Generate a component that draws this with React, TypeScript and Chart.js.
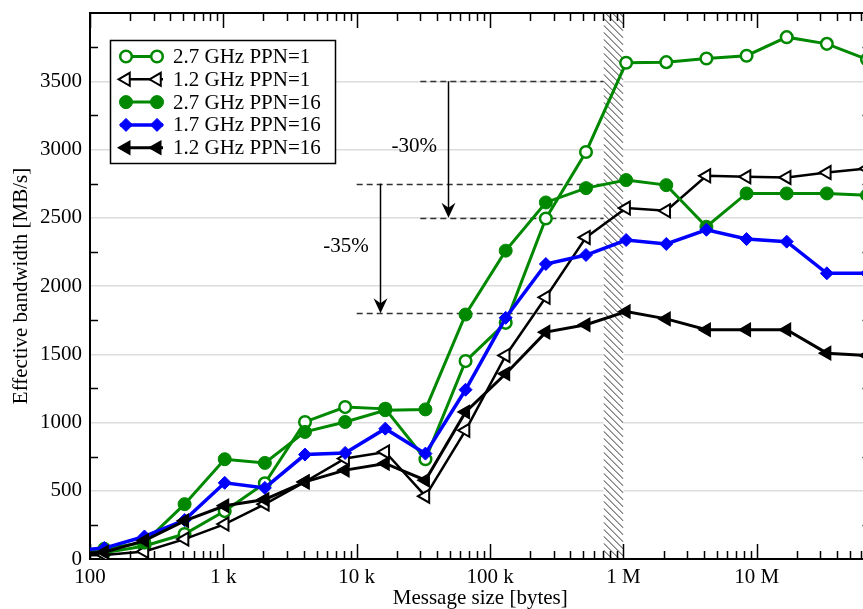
import React, { useEffect, useRef } from 'react';
import { Chart, registerables } from 'chart.js';
import { drawPoint } from 'chart.js/helpers';

Chart.register(...registerables);

// ---------- data ----------
const messageSizes = [64, 128, 256, 512, 1024, 2048, 4096, 8192, 16384, 32768, 65536, 131072, 262144, 524288, 1048576, 2097152, 4194304, 8388608, 16777216, 33554432, 67108864];

const seriesLabels = ['2.7 GHz PPN=1', '1.2 GHz PPN=1', '2.7 GHz PPN=16', '1.7 GHz PPN=16', '1.2 GHz PPN=16'];

const ghz27ppn1 = [35, 45, 95, 183, 351, 555, 1004, 1113, 1100, 731, 1450, 1730, 2495, 2982, 3635, 3640, 3667, 3687, 3823, 3774, 3660];
const ghz12ppn1 = [25, 30, 55, 146, 256, 402, 565, 736, 784, 460, 943, 1491, 1917, 2356, 2571, 2551, 2807, 2800, 2795, 2831, 2860];
const ghz27ppn16 = [45, 75, 120, 402, 731, 704, 931, 1004, 1090, 1096, 1791, 2259, 2612, 2717, 2776, 2739, 2434, 2678, 2678, 2678, 2665];
const ghz17ppn16 = [55, 80, 165, 285, 558, 521, 765, 777, 955, 772, 1240, 1767, 2161, 2227, 2337, 2308, 2412, 2344, 2325, 2093, 2093];
const ghz12ppn16 = [40, 50, 135, 280, 390, 436, 565, 651, 700, 577, 1077, 1357, 1662, 1716, 1813, 1759, 1679, 1679, 1679, 1508, 1491];

const xTickDecades = [100, 1000, 10000, 100000, 1000000, 10000000];
const xTickLabels = ['100', '1 k', '10 k', '100 k', '1 M', '10 M'];
const yMajorStep = 500;
const yMinorValues = [250, 750, 1250, 1750, 2250, 2750, 3250, 3750];

const xMin = 100;
const xMax = 7.13e7;
const yMin = 0;
const yMax = 4000;

// annotations (data space)
const hatchRange = [710000, 1000000];
const refLines = [
  { value: 3500, from: 30000 },
  { value: 2500, from: 30000 },
  { value: 2750, from: 10000 },
  { value: 1800, from: 10000 },
];
const arrows = [
  { x: 48000, from: 3500, to: 2500, label: '-30%', labelX: 27000, labelY: 3025 },
  { x: 15000, from: 2750, to: 1800, label: '-35%', labelX: 8300, labelY: 2290 },
];

// ---------- styles ----------
const FONT_FAMILY = "'Liberation Serif', 'DejaVu Serif', serif";
const FONT_SIZE = 21;
const GREEN = 'rgb(0,136,0)';
const BLUE = 'rgb(0,0,255)';
const BLACK = '#000';

const seriesValues = [ghz27ppn1, ghz12ppn1, ghz27ppn16, ghz17ppn16, ghz12ppn16];
const seriesStyles = [
  { color: GREEN, width: 3, pointStyle: 'circle', rotation: 0, radius: 5.8, pbw: 2.5, fill: '#fff' },
  { color: BLACK, width: 2.5, pointStyle: 'triangle', rotation: -90, radius: 7.5, pbw: 2, fill: '#fff' },
  { color: GREEN, width: 3, pointStyle: 'circle', rotation: 0, radius: 6.5, pbw: 1, fill: GREEN },
  { color: BLUE, width: 3.5, pointStyle: 'rectRot', rotation: 0, radius: 6.5, pbw: 1, fill: BLUE },
  { color: BLACK, width: 3, pointStyle: 'triangle', rotation: -90, radius: 7.5, pbw: 1.5, fill: BLACK },
];

function xTickList(): number[] {
  const out: number[] = [];
  for (const d of xTickDecades) {
    for (let m = 1; m <= 9; m++) {
      const v = m * d;
      if (v >= xMin && v <= xMax) out.push(v);
    }
  }
  return out;
}

const decorPlugin = {
  id: 'decor',
  beforeDatasetsDraw(chart: any) {
    const { ctx, chartArea: a, scales } = chart;
    const x = scales.x;
    const y = scales.y;
    // hatched region
    const hx0 = x.getPixelForValue(hatchRange[0]);
    const hx1 = x.getPixelForValue(hatchRange[1]);
    ctx.save();
    ctx.beginPath();
    ctx.rect(hx0, a.top + 1, hx1 - hx0, a.bottom - a.top - 2);
    ctx.fillStyle = '#fff';
    ctx.fill();
    ctx.clip();
    ctx.beginPath();
    ctx.strokeStyle = '#333';
    ctx.lineWidth = 1;
    const w = hx1 - hx0;
    for (let c = a.top - w - 10; c < a.bottom + 10; c += 7) {
      ctx.moveTo(hx0, c);
      ctx.lineTo(hx1, c + w);
    }
    ctx.stroke();
    ctx.restore();

    // dashed reference lines
    ctx.save();
    ctx.strokeStyle = '#333';
    ctx.lineWidth = 1.3;
    ctx.setLineDash([6, 4]);
    for (const r of refLines) {
      const py = Math.round(y.getPixelForValue(r.value)) + 0.5;
      ctx.beginPath();
      ctx.moveTo(x.getPixelForValue(r.from), py);
      ctx.lineTo(hx0, py);
      ctx.stroke();
    }
    ctx.restore();

    // arrows and labels
    ctx.save();
    for (const ar of arrows) {
      const px = Math.round(x.getPixelForValue(ar.x)) + 0.5;
      const y0 = y.getPixelForValue(ar.from);
      const y1 = y.getPixelForValue(ar.to);
      ctx.strokeStyle = '#000';
      ctx.fillStyle = '#000';
      ctx.lineWidth = 1.5;
      ctx.beginPath();
      ctx.moveTo(px, y0);
      ctx.lineTo(px, y1 - 8);
      ctx.stroke();
      ctx.beginPath();
      ctx.moveTo(px, y1);
      ctx.lineTo(px - 7, y1 - 15);
      ctx.lineTo(px, y1 - 10);
      ctx.lineTo(px + 7, y1 - 15);
      ctx.closePath();
      ctx.fill();
      ctx.font = `${FONT_SIZE}px ${FONT_FAMILY}`;
      ctx.textAlign = 'center';
      ctx.textBaseline = 'middle';
      ctx.fillText(ar.label, x.getPixelForValue(ar.labelX), y.getPixelForValue(ar.labelY));
    }
    ctx.restore();

    // ticks and top frame
    ctx.save();
    ctx.strokeStyle = '#000';
    ctx.lineWidth = 1.5;
    ctx.beginPath();
    for (const v of xTickList()) {
      const px = Math.round(x.getPixelForValue(v)) + 0.5;
      const major = xTickDecades.includes(v);
      const len = major ? 15 : 8;
      ctx.moveTo(px, a.bottom);
      ctx.lineTo(px, a.bottom - len);
      ctx.moveTo(px, a.top);
      ctx.lineTo(px, a.top + len);
    }
    for (const v of yMinorValues) {
      const py = Math.round(y.getPixelForValue(v)) + 0.5;
      ctx.moveTo(a.left, py);
      ctx.lineTo(a.left + 8, py);
      ctx.moveTo(a.right, py);
      ctx.lineTo(a.right - 8, py);
    }
    ctx.stroke();
    ctx.lineWidth = 2;
    ctx.beginPath();
    ctx.moveTo(a.left - 1, a.top);
    ctx.lineTo(a.right + 1, a.top);
    ctx.moveTo(a.right, a.top);
    ctx.lineTo(a.right, a.bottom);
    ctx.stroke();
    ctx.restore();
  },
  afterDraw(chart: any) {
    const { ctx } = chart;
    // legend
    const lx = 110.5, ly = 40.5, lw = 225, lh = 123;
    ctx.save();
    ctx.fillStyle = '#fff';
    ctx.fillRect(lx, ly, lw, lh);
    ctx.strokeStyle = '#000';
    ctx.lineWidth = 1.5;
    ctx.strokeRect(lx, ly, lw, lh);
    ctx.font = `${FONT_SIZE}px ${FONT_FAMILY}`;
    ctx.textAlign = 'left';
    ctx.textBaseline = 'middle';
    seriesLabels.forEach((label, i) => {
      const s = seriesStyles[i];
      const ry = 56.5 + i * 22.8;
      ctx.strokeStyle = s.color;
      ctx.lineWidth = s.width;
      ctx.beginPath();
      ctx.moveTo(120, ry);
      ctx.lineTo(163, ry);
      ctx.stroke();
      for (const px of [126, 157]) {
        ctx.fillStyle = s.fill;
        ctx.strokeStyle = s.color;
        ctx.lineWidth = s.pbw;
        drawPoint(ctx, { pointStyle: s.pointStyle as any, rotation: s.rotation, radius: s.radius, borderWidth: s.pbw }, px, ry);
      }
      ctx.fillStyle = '#000';
      ctx.fillText(label, 173, ry + 1);
    });
    ctx.restore();
  },
};

export default function App() {
  const ref = useRef<HTMLCanvasElement>(null);
  useEffect(() => {
    const canvas = ref.current!;
    const font = { family: FONT_FAMILY, size: FONT_SIZE };
    const datasets = seriesLabels.map((label, i) => {
      const s = seriesStyles[i];
      return {
        label,
        data: messageSizes.map((m, j) => ({ x: m, y: seriesValues[i][j] })),
        borderColor: s.color,
        backgroundColor: s.fill,
        borderWidth: s.width,
        pointStyle: s.pointStyle,
        pointRotation: s.rotation,
        pointRadius: s.radius,
        pointBorderWidth: s.pbw,
        pointBackgroundColor: s.fill,
        pointBorderColor: s.color,
        tension: 0,
        fill: false,
        clip: 0,
        order: seriesLabels.length - i,
      };
    });
    const chart = new Chart(canvas, {
      type: 'line',
      data: { datasets: datasets as any },
      options: {
        animation: false,
        responsive: false,
        devicePixelRatio: 1,
        layout: { padding: { top: 13, right: 8, left: 0, bottom: 0 } },
        plugins: { legend: { display: false }, tooltip: { enabled: false } },
        scales: {
          x: {
            type: 'logarithmic',
            min: xMin,
            max: xMax,
            afterFit: (s: any) => { s.height = 50; s.paddingLeft = 0; s.paddingRight = 0; },
            afterBuildTicks: (s: any) => { s.ticks = xTickList().map((v) => ({ value: v })); },
            ticks: {
              autoSkip: false,
              maxRotation: 0,
              padding: 6,
              color: '#000',
              font,
              callback: (v: any) => {
                const k = xTickDecades.indexOf(Number(v));
                return k >= 0 ? xTickLabels[k] : '';
              },
            },
            grid: { display: false, drawTicks: false },
            border: { display: true, color: '#000', width: 2 },
            title: {
              display: true,
              text: 'Message size [bytes]',
              color: '#000',
              font: { ...font, lineHeight: 1 },
              padding: { top: 0, bottom: 0 },
            },
          },
          y: {
            type: 'linear',
            min: yMin,
            max: yMax,
            afterFit: (s: any) => { s.width = 90; s.paddingTop = 0; s.paddingBottom = 0; },
            ticks: {
              stepSize: yMajorStep,
              padding: 8,
              color: '#000',
              font,
              callback: (v: any) => (Number(v) >= yMax ? '' : String(v)),
            },
            grid: {
              drawTicks: false,
              lineWidth: 1.5,
              color: (c: any) => (c.tick && c.tick.value > yMin && c.tick.value < yMax ? '#dcdcdc' : 'rgba(0,0,0,0)'),
            },
            border: { display: true, color: '#000', width: 2 },
            title: {
              display: true,
              text: 'Effective bandwidth [MB/s]',
              color: '#000',
              font: { ...font, lineHeight: 1 },
              padding: { top: 11, bottom: 0 },
            },
          },
        },
      },
      plugins: [decorPlugin as any],
    });
    return () => chart.destroy();
  }, []);
  return (
    <div style={{ position: 'absolute', left: 0, top: 0, width: 863, height: 609, overflow: 'hidden', background: '#fff' }}>
      <canvas ref={ref} width={880} height={609} style={{ display: 'block' }} />
    </div>
  );
}
